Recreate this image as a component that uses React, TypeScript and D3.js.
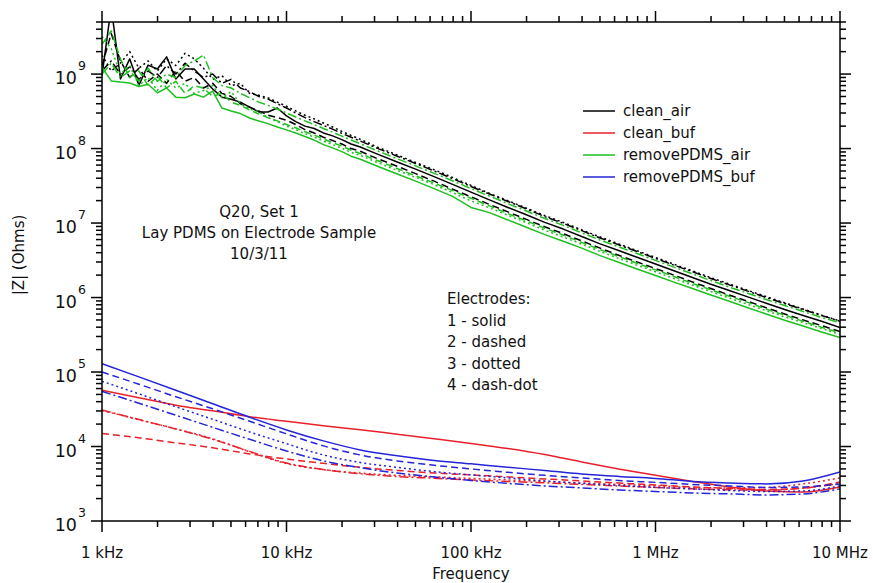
import React from "react";
import * as d3 from "d3";

const WIDTH = 873;
const HEIGHT = 583;
const PLOT = { left: 102, right: 840, top: 22, bottom: 521 };
const FONT = "'DejaVu Sans', 'Lucida Grande', Verdana, sans-serif";

// ---- data: air measurements (Hz, Ohms) ----
const freqAir = [
  1000, 1122, 1259, 1413, 1585, 1778, 1995, 2239, 2512, 2818, 3162, 3548, 3981, 4467, 5012, 5623,
  6310, 7079, 7943, 8913, 10000, 11220, 12589, 14125, 15849, 17783, 19953, 22387, 25119, 28184,
  31623, 39811, 50119, 63096, 79433, 100000, 125893, 158489, 199526, 251189, 316228, 398107,
  501187, 630957, 794328, 1000000, 1258925, 1584893, 1995262, 2511886, 3162278, 3981072, 5011872,
  6309573, 7943282, 10000000,
];

const cleanAir1 = [
  9.5e8, 8.0e9, 8.6e8, 1.6e9, 7.1e8, 1.32e9, 1.17e9, 1.7e9, 8.6e8, 1.17e9, 1.17e9, 8.6e8, 6.3e8, 4.9e8,
  4.6e8, 4.2e8, 3.6e8, 3.1e8, 3.1e8, 3.5e8, 2.75e8, 2.3e8, 2.0e8, 1.86e8, 1.62e8, 1.48e8, 1.32e8,
  1.15e8, 1.05e8, 9.3e7, 8.3e7, 6.6e7, 5.3e7, 4.2e7, 3.3e7, 2.6e7, 2.05e7, 1.62e7, 1.29e7, 1.02e7,
  8.3e6, 6.6e6, 5.25e6, 4.27e6, 3.47e6, 2.82e6, 2.29e6, 1.86e6, 1.51e6, 1.24e6, 1.02e6, 8.4e5,
  6.9e5, 5.75e5, 4.8e5, 3.95e5,
];
const cleanAir2 = [
  1.3e9, 3.5e9, 1.5e9, 9.0e8, 1.2e9, 8.0e8, 1.0e9, 7.5e8, 1.1e9, 8.0e8, 9.0e8, 6.5e8, 7.5e8, 5.5e8,
  5.0e8, 4.0e8, 3.6e8, 3.2e8, 2.8e8, 2.6e8, 2.4e8, 2.1e8, 1.8e8, 1.62e8, 1.42e8, 1.28e8, 1.15e8,
  1.0e8, 9.2e7, 8.1e7, 7.2e7, 5.8e7, 4.6e7, 3.65e7, 2.85e7, 2.25e7, 1.78e7, 1.41e7, 1.12e7, 8.9e6,
  7.2e6, 5.75e6, 4.6e6, 3.7e6, 3.0e6, 2.45e6, 2.0e6, 1.62e6, 1.32e6, 1.08e6, 8.9e5, 7.3e5, 6.0e5,
  5.0e5, 4.2e5, 3.5e5,
];
const cleanAir3 = [
  1.8e9, 1.1e9, 1.4e9, 2.0e9, 1.2e9, 1.5e9, 1.1e9, 1.6e9, 1.3e9, 1.9e9, 1.6e9, 1.2e9, 8.5e8, 9.5e8,
  7.0e8, 7.5e8, 5.5e8, 5.2e8, 4.8e8, 4.2e8, 3.7e8, 3.2e8, 2.8e8, 2.5e8, 2.2e8, 1.95e8, 1.7e8,
  1.5e8, 1.33e8, 1.17e8, 1.03e8, 8.2e7, 6.5e7, 5.2e7, 4.1e7, 3.2e7, 2.5e7, 2.0e7, 1.58e7, 1.26e7,
  1.02e7, 8.1e6, 6.5e6, 5.25e6, 4.25e6, 3.45e6, 2.8e6, 2.28e6, 1.85e6, 1.52e6, 1.25e6, 1.03e6,
  8.5e5, 7.0e5, 5.8e5, 4.85e5,
];
const cleanAir4 = [
  1.1e9, 1.5e9, 1.0e9, 1.25e9, 8.5e8, 1.1e9, 9.0e8, 1.3e9, 1.0e9, 1.4e9, 1.1e9, 9.0e8, 1.0e9, 7.5e8,
  8.5e8, 6.5e8, 5.8e8, 5.0e8, 4.6e8, 4.0e8, 3.5e8, 3.0e8, 2.6e8, 2.3e8, 2.05e8, 1.82e8, 1.6e8,
  1.42e8, 1.26e8, 1.12e8, 9.9e7, 7.9e7, 6.3e7, 5.0e7, 3.95e7, 3.1e7, 2.45e7, 1.95e7, 1.55e7,
  1.22e7, 9.9e6, 7.9e6, 6.3e6, 5.1e6, 4.15e6, 3.35e6, 2.72e6, 2.22e6, 1.8e6, 1.48e6, 1.22e6, 1.0e6,
  8.3e5, 6.9e5, 5.75e5, 4.8e5,
];
const removeAir1 = [
  1.23e9, 8.1e8, 7.8e8, 7.6e8, 6.8e8, 7.3e8, 5.6e8, 6.5e8, 4.9e8, 4.8e8, 5.4e8, 4.9e8, 5.9e8, 3.5e8,
  3.2e8, 2.95e8, 2.57e8, 2.34e8, 2.16e8, 1.95e8, 1.78e8, 1.62e8, 1.45e8, 1.3e8, 1.13e8, 1.02e8,
  9.1e7, 7.9e7, 7.2e7, 6.4e7, 5.7e7, 4.55e7, 3.65e7, 2.9e7, 2.28e7, 1.62e7, 1.38e7, 1.1e7, 8.8e6,
  7.0e6, 5.7e6, 4.6e6, 3.65e6, 2.97e6, 2.42e6, 1.98e6, 1.61e6, 1.32e6, 1.08e6, 8.9e5, 7.3e5, 6.0e5,
  4.95e5, 4.15e5, 3.45e5, 2.9e5,
];
const removeAir2 = [
  2.5e9, 3.8e9, 1.6e9, 9.0e8, 1.1e9, 7.0e8, 9.5e8, 6.5e8, 8.0e8, 5.5e8, 7.0e8, 6.5e8, 5.0e8, 5.5e8,
  4.2e8, 3.8e8, 3.3e8, 2.9e8, 2.6e8, 2.35e8, 2.1e8, 1.9e8, 1.68e8, 1.52e8, 1.34e8, 1.2e8, 1.08e8,
  9.5e7, 8.6e7, 7.6e7, 6.8e7, 5.4e7, 4.3e7, 3.45e7, 2.72e7, 2.15e7, 1.7e7, 1.34e7, 1.07e7, 8.5e6,
  6.9e6, 5.5e6, 4.4e6, 3.55e6, 2.88e6, 2.35e6, 1.92e6, 1.55e6, 1.27e6, 1.04e6, 8.6e5, 7.0e5, 5.8e5,
  4.8e5, 4.0e5, 3.35e5,
];
const removeAir3 = [
  3.2e9, 2.2e9, 1.0e9, 1.3e9, 7.0e8, 9.0e8, 6.0e8, 8.5e8, 6.5e8, 7.5e8, 5.5e8, 6.0e8, 7.0e8, 4.8e8,
  5.8e8, 4.0e8, 3.4e8, 3.1e8, 2.6e8, 2.3e8, 2.0e8, 1.8e8, 1.58e8, 1.43e8, 1.26e8, 1.13e8, 1.01e8,
  8.9e7, 8.1e7, 7.2e7, 6.4e7, 5.1e7, 4.1e7, 3.28e7, 2.57e7, 1.98e7, 1.6e7, 1.27e7, 1.01e7, 8.0e6,
  6.5e6, 5.2e6, 4.15e6, 3.35e6, 2.72e6, 2.22e6, 1.8e6, 1.47e6, 1.2e6, 9.8e5, 8.1e5, 6.65e5, 5.5e5,
  4.6e5, 3.85e5, 3.2e5,
];
const removeAir4 = [
  1.0e9, 1.4e9, 9.0e8, 1.1e9, 8.0e8, 1.2e9, 8.0e8, 1.0e9, 9.0e8, 1.3e9, 1.5e9, 1.8e9, 9.0e8, 7.0e8,
  6.5e8, 5.5e8, 4.8e8, 4.2e8, 3.8e8, 3.4e8, 3.0e8, 2.65e8, 2.35e8, 2.1e8, 1.86e8, 1.66e8, 1.47e8,
  1.3e8, 1.16e8, 1.03e8, 9.2e7, 7.3e7, 5.85e7, 4.65e7, 3.7e7, 2.9e7, 2.3e7, 1.82e7, 1.45e7, 1.15e7,
  9.3e6, 7.4e6, 5.9e6, 4.8e6, 3.9e6, 3.15e6, 2.56e6, 2.08e6, 1.69e6, 1.38e6, 1.14e6, 9.4e5, 7.8e5,
  6.5e5, 5.4e5, 4.6e5,
];

// ---- data: buffer measurements (Hz, Ohms) ----
const freqBuf = [
  1000, 1585, 2512, 3981, 6310, 10000, 15849, 25119, 39811, 63096, 100000, 158489, 251189, 398107,
  630957, 1000000, 1584893, 2511886, 3981072, 6309573, 10000000,
];
const cleanBuf1 = [
  5.7e4, 4.52e4, 3.58e4, 3.02e4, 2.51e4, 2.18e4, 1.9e4, 1.68e4, 1.46e4, 1.27e4, 1.1e4, 9.4e3, 7.8e3,
  6.2e3, 5.0e3, 4.1e3, 3.4e3, 2.87e3, 2.53e3, 2.46e3, 2.87e3,
];
const cleanBuf2 = [
  1.5e4, 1.31e4, 1.12e4, 9.6e3, 7.96e3, 6.8e3, 5.94e3, 5.25e3, 4.78e3, 4.42e3, 4.16e3, 3.91e3,
  3.67e3, 3.45e3, 3.24e3, 3.05e3, 2.87e3, 2.74e3, 2.65e3, 2.78e3, 3.35e3,
];
const cleanBuf3 = [
  3.05e4, 2.29e4, 1.73e4, 1.27e4, 8.5e3, 5.9e3, 4.9e3, 4.4e3, 4.1e3, 3.91e3, 3.73e3, 3.56e3, 3.4e3,
  3.24e3, 3.1e3, 2.96e3, 2.82e3, 2.78e3, 2.82e3, 3.15e3, 3.79e3,
];
const cleanBuf4 = [
  3.1e4, 2.3e4, 1.72e4, 1.25e4, 8.6e3, 6.0e3, 4.9e3, 4.3e3, 3.95e3, 3.75e3, 3.55e3, 3.4e3, 3.25e3,
  3.1e3, 2.95e3, 2.82e3, 2.7e3, 2.62e3, 2.6e3, 2.75e3, 3.2e3,
];
const removeBuf1 = [
  1.29e5, 8.6e4, 5.7e4, 3.75e4, 2.47e4, 1.67e4, 1.19e4, 9.0e3, 7.5e3, 6.5e3, 5.85e3, 5.25e3, 4.78e3,
  4.29e3, 3.97e3, 3.73e3, 3.4e3, 3.24e3, 3.15e3, 3.45e3, 4.56e3,
];
const removeBuf2 = [
  1.0e5, 6.86e4, 4.66e4, 3.21e4, 2.18e4, 1.48e4, 1.02e4, 7.7e3, 6.4e3, 5.6e3, 5.0e3, 4.5e3, 4.1e3,
  3.79e3, 3.5e3, 3.3e3, 3.1e3, 2.96e3, 2.82e3, 2.87e3, 3.15e3,
];
const removeBuf3 = [
  7.5e4, 5.1e4, 3.42e4, 2.32e4, 1.57e4, 1.09e4, 7.7e3, 6.1e3, 5.25e3, 4.6e3, 4.16e3, 3.79e3, 3.45e3,
  3.2e3, 3.0e3, 2.83e3, 2.7e3, 2.57e3, 2.49e3, 2.53e3, 2.96e3,
];
const removeBuf4 = [
  5.5e4, 3.81e4, 2.63e4, 1.81e4, 1.25e4, 8.7e3, 6.4e3, 5.2e3, 4.4e3, 3.91e3, 3.5e3, 3.2e3, 2.96e3,
  2.78e3, 2.61e3, 2.49e3, 2.38e3, 2.31e3, 2.24e3, 2.31e3, 2.7e3,
];

// ---- labels ----
const legendNames = ["clean_air", "clean_buf", "removePDMS_air", "removePDMS_buf"];
const xMajorValues = [1e3, 1e4, 1e5, 1e6, 1e7];
const xTickLabels = ["1 kHz", "10 kHz", "100 kHz", "1 MHz", "10 MHz"];
const yMajorExponents = [3, 4, 5, 6, 7, 8, 9];
const titleLines = ["Q20, Set 1", "Lay PDMS on Electrode Sample", "10/3/11"];
const electrodeLines = ["Electrodes:", "1 - solid", "2 - dashed", "3 - dotted", "4 - dash-dot"];

const COLORS = ["#000000", "#e8202a", "#1fbf1f", "#2424d8"];
const DASHES = [undefined, "7,4", "2,3", "9,3,2,3"];

export default function App() {
  const x = d3.scaleLog().domain([1e3, 1e7]).range([PLOT.left, PLOT.right]);
  const y = d3.scaleLog().domain([1e3, 5e9]).range([PLOT.bottom, PLOT.top]);

  const mkPath = (fs: number[], vs: number[], smooth: boolean) =>
    d3
      .line<number>()
      .x((_, i) => x(fs[i]))
      .y((v) => y(v))
      .curve(smooth ? d3.curveMonotoneX : d3.curveLinear)(vs) || "";

  const series = [
    { color: 0, group: [cleanAir1, cleanAir2, cleanAir3, cleanAir4], fs: freqAir, smooth: false },
    { color: 1, group: [cleanBuf1, cleanBuf2, cleanBuf3, cleanBuf4], fs: freqBuf, smooth: true },
    { color: 2, group: [removeAir1, removeAir2, removeAir3, removeAir4], fs: freqAir, smooth: false },
    { color: 3, group: [removeBuf1, removeBuf2, removeBuf3, removeBuf4], fs: freqBuf, smooth: true },
  ];

  const xMinor: number[] = [];
  for (let e = 3; e < 7; e++) for (let k = 2; k <= 9; k++) xMinor.push(k * Math.pow(10, e));
  const yMinor: number[] = [];
  for (let e = 3; e <= 9; e++)
    for (let k = 2; k <= 9; k++) {
      const v = k * Math.pow(10, e);
      if (v <= 5e9) yMinor.push(v);
    }

  const MAJ = 11;
  const MIN = 6;
  const ax = { stroke: "#000", strokeWidth: 1.5 };

  return (
    <svg
      width={WIDTH}
      height={HEIGHT}
      style={{ position: "absolute", left: 0, top: 0, background: "#fff" }}
      fontFamily={FONT}
    >
      <defs>
        <clipPath id="plotclip">
          <rect x={PLOT.left} y={PLOT.top} width={PLOT.right - PLOT.left} height={PLOT.bottom - PLOT.top} />
        </clipPath>
      </defs>
      <rect width={WIDTH} height={HEIGHT} fill="#fff" />

      <g clipPath="url(#plotclip)">
        {series.map((s, si) =>
          s.group.map((vals, k) => (
            <path
              key={`${si}-${k}`}
              d={mkPath(s.fs, vals, s.smooth)}
              fill="none"
              stroke={COLORS[s.color]}
              strokeWidth={1.5}
              strokeDasharray={DASHES[k]}
              strokeLinejoin="round"
            />
          ))
        )}
      </g>

      {/* frame */}
      <rect
        x={PLOT.left}
        y={PLOT.top}
        width={PLOT.right - PLOT.left}
        height={PLOT.bottom - PLOT.top}
        fill="none"
        {...ax}
      />

      {/* x ticks */}
      {xMajorValues.map((v) => (
        <g key={`xm${v}`}>
          <line x1={x(v)} x2={x(v)} y1={PLOT.bottom} y2={PLOT.bottom + MAJ} {...ax} />
          <line x1={x(v)} x2={x(v)} y1={PLOT.top} y2={PLOT.top - MAJ} {...ax} />
        </g>
      ))}
      {xMinor.map((v) => (
        <g key={`xn${v}`}>
          <line x1={x(v)} x2={x(v)} y1={PLOT.bottom} y2={PLOT.bottom + MIN} {...ax} />
          <line x1={x(v)} x2={x(v)} y1={PLOT.top} y2={PLOT.top - MIN} {...ax} />
        </g>
      ))}
      {xMajorValues.map((v, i) => (
        <text key={`xl${v}`} x={x(v)} y={558} fontSize={15} textAnchor="middle" fill="#111">
          {xTickLabels[i]}
        </text>
      ))}

      {/* y ticks */}
      {yMajorExponents.map((e) => {
        const v = Math.pow(10, e);
        return (
          <g key={`ym${e}`}>
            <line x1={PLOT.left} x2={PLOT.left - MAJ} y1={y(v)} y2={y(v)} {...ax} />
            <line x1={PLOT.right} x2={PLOT.right + MAJ} y1={y(v)} y2={y(v)} {...ax} />
            <text x={77} y={y(v) + 10} fontSize={17.5} textAnchor="end" fill="#111">
              10
            </text>
            <text x={78} y={y(v) - 4} fontSize={12.5} textAnchor="start" fill="#111">
              {e}
            </text>
          </g>
        );
      })}
      {yMinor.map((v) => (
        <g key={`yn${v}`}>
          <line x1={PLOT.left} x2={PLOT.left - MIN} y1={y(v)} y2={y(v)} {...ax} />
          <line x1={PLOT.right} x2={PLOT.right + MIN} y1={y(v)} y2={y(v)} {...ax} />
        </g>
      ))}

      {/* axis titles */}
      <text x={471} y={579} fontSize={15} textAnchor="middle" fill="#111">
        Frequency
      </text>
      <text
        transform={`translate(${24},${255}) rotate(-90)`}
        fontSize={15}
        textAnchor="middle"
        fill="#111"
      >
        |Z| (Ohms)
      </text>

      {/* annotation */}
      {titleLines.map((t, i) => (
        <text key={t} x={259} y={217 + i * 21} fontSize={15} textAnchor="middle" fill="#111">
          {t}
        </text>
      ))}
      {electrodeLines.map((t, i) => (
        <text key={t} x={447} y={304 + i * 21.5} fontSize={15} textAnchor="start" fill="#111">
          {t}
        </text>
      ))}

      {/* legend */}
      {legendNames.map((n, i) => (
        <g key={n}>
          <line x1={583} x2={615} y1={111 + i * 22} y2={111 + i * 22} stroke={COLORS[i]} strokeWidth={1.5} />
          <text x={623} y={116 + i * 22} fontSize={15} fill="#111">
            {n}
          </text>
        </g>
      ))}
    </svg>
  );
}
